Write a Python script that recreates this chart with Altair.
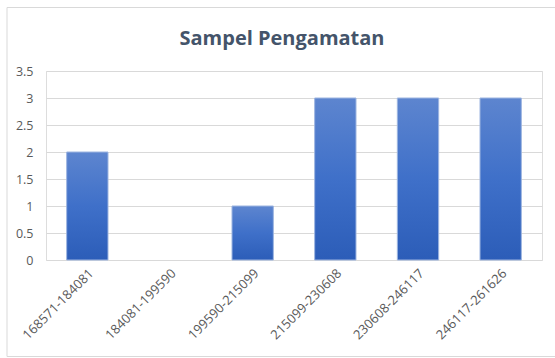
import altair as alt
import pandas as pd

title_text = ["Sampel Pengamatan"]
categories = ["168571-184081", "184081-199590", "199590-215099",
              "215099-230608", "230608-246117", "246117-261626"]
values = [2, 0, 1, 3, 3, 3]
y_ticks = [0, 0.5, 1, 1.5, 2, 2.5, 3, 3.5]

df = pd.DataFrame({"kelas": categories, "jumlah": values})

grad = alt.Gradient(
    gradient="linear",
    stops=[alt.GradientStop(color="#5D85CF", offset=0),
           alt.GradientStop(color="#3F70C9", offset=0.5),
           alt.GradientStop(color="#2C5DB8", offset=1)],
    x1=0, x2=0, y1=0, y2=1,
)

bars = alt.Chart(df).mark_bar(color=grad, stroke="#9DB5E0", strokeWidth=1).encode(
    x=alt.X("kelas:N", sort=categories, title=None,
            scale=alt.Scale(paddingInner=0.5, paddingOuter=0.25),
            axis=alt.Axis(labelAngle=-45, labelAlign="right", labelBaseline="middle",
                          labelPadding=11, labelOffset=4, ticks=False, domain=False, grid=False,
                          labelFont="Open Sans", labelFontSize=13, labelColor="#595959")),
    y=alt.Y("jumlah:Q", title=None,
            scale=alt.Scale(domain=[0, 3.5], nice=False),
            axis=alt.Axis(values=y_ticks, format=".1~f", ticks=False, domain=False,
                          grid=True, gridColor="#D9D9D9", gridWidth=1,
                          labelPadding=13, labelFont="Open Sans", labelFontSize=12.5,
                          labelColor="#595959")),
    strokeOpacity=alt.condition("datum.jumlah > 0", alt.value(1), alt.value(0)),
)

frame = alt.Chart(pd.DataFrame({"a": [0]})).mark_rect(
    fill="transparent", stroke="#D9D9D9", strokeWidth=1
).encode(
    x=alt.value(-39), x2=alt.value(530),
    y=alt.value(-63.5), y2=alt.value(285.5),
)

title = alt.Chart(pd.DataFrame({"t": title_text})).mark_text(
    font="Open Sans", fontSize=20, fontWeight="bold", color="#44546A",
    align="center", baseline="alphabetic"
).encode(
    text="t:N", x=alt.value(236), y=alt.value(-26),
)

chart = alt.layer(frame, bars, title).properties(
    width=496, height=189,
    autosize=alt.AutoSizeParams(type="none"),
    padding={"left": 46, "top": 71, "right": 13, "bottom": 98},
).configure_view(stroke=None).configure(background="white")

chart.save("out.html", embed_options={"renderer": "svg", "actions": False})
